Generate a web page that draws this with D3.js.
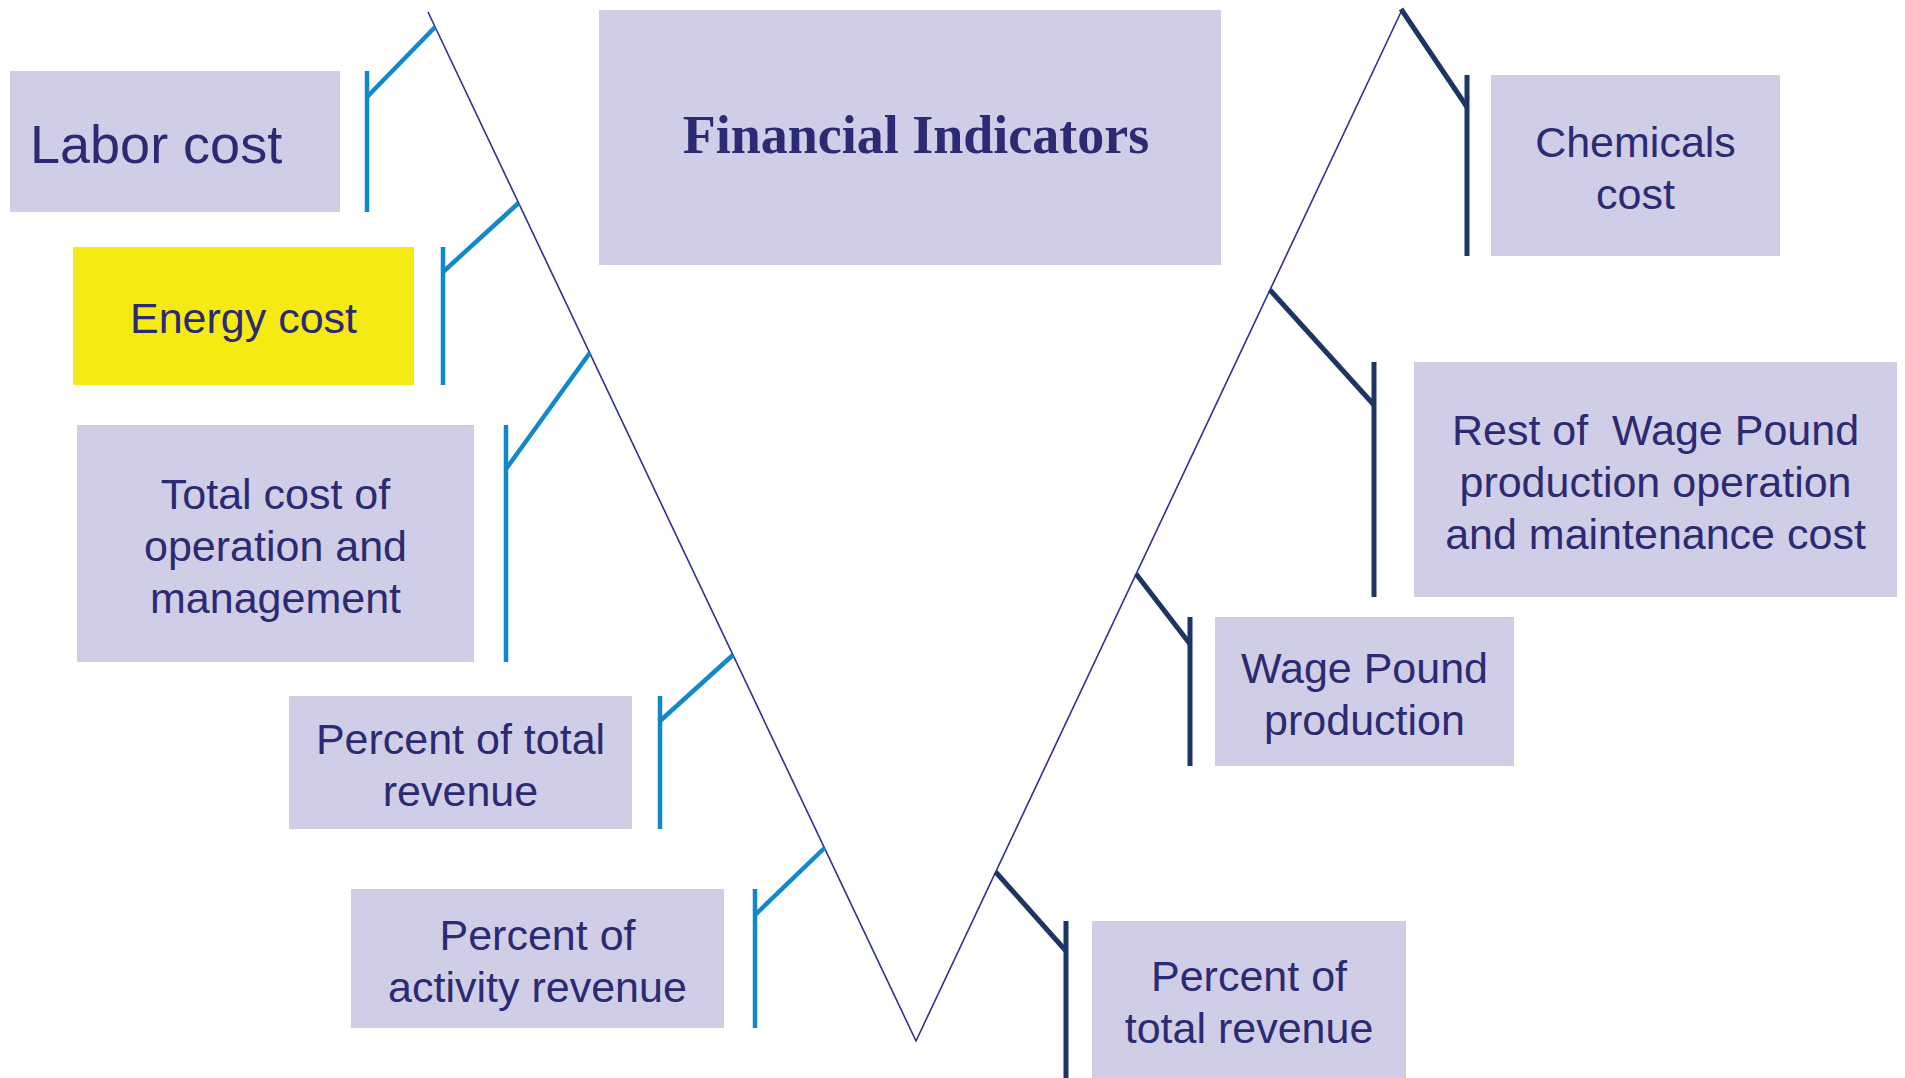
<!DOCTYPE html>
<html>
<head>
<meta charset="utf-8">
<script src="https://cdn.jsdelivr.net/npm/d3@7/dist/d3.min.js"></script>
<style>
  body { margin: 0; background: #fff; }
  text { white-space: pre; }
</style>
</head>
<body>
<div class="graph"></div>
<script>
// Labels of the diagram, left arm (top to bottom) and right arm (top to bottom)
var leftLabels = ["Labor cost", "Energy cost", "Total cost of\noperation and\nmanagement",
    "Percent of total\nrevenue", "Percent of\nactivity revenue"];
var rightLabels = ["Chemicals\ncost", "Rest of  Wage Pound\nproduction operation\nand maintenance cost",
    "Wage Pound\nproduction", "Percent of\ntotal revenue"];
var titleLabel = "Financial Indicators";
var highlighted = ["Energy cost"];

// Layout, in design units of the 1905 x 1078 canvas
var leftBoxes = [[10, 71, 340, 212], [73, 247, 414, 385], [77, 425, 474, 662],
    [289, 696, 632, 829], [351, 889, 724, 1028]];
var rightBoxes = [[1491, 75, 1780, 256], [1414, 362, 1897, 597],
    [1215, 617, 1514, 766], [1092, 921, 1406, 1078]];
var titleBox = [599, 10, 1221, 265];
var vPoints = [[428, 12], [916, 1041], [1401, 12]];
// stem x, join y on the stem, y where the branch meets the V
var leftStems = [[367, 97, 27], [443, 272, 203], [506, 469, 353], [660, 721, 655], [755, 915, 848]];
var rightStems = [[1467, 107, 9], [1374, 405, 290], [1190, 644, 574], [1066, 951, 872]];

var width = 1905, height = 1078;

var x = d3.scaleLinear().domain([0, 1905]).range([0, width]);
var y = d3.scaleLinear().domain([0, 1078]).range([0, height]);

var svg = d3.select(".graph").append("svg")
    .attr("width", width)
    .attr("height", height);

var boxFill = "#d0cee7",
    textColor = "#2c2a72";

// x position on an arm of the V for a given y
function armX(p0, p1, yy) {
    var t = (yy - p0[1]) / (p1[1] - p0[1]);
    return p0[0] + t * (p1[0] - p0[0]);
}

var nodes = [];
leftLabels.forEach(function(d, i) {
    nodes.push({label: d, box: leftBoxes[i], stem: leftStems[i], side: "left"});
});
rightLabels.forEach(function(d, i) {
    nodes.push({label: d, box: rightBoxes[i], stem: rightStems[i], side: "right"});
});

// The boxes
svg.selectAll(".box")
    .data(nodes)
    .enter()
    .append("rect")
    .attr("class", "box")
    .attr("x", function(d) { return x(d.box[0]); })
    .attr("y", function(d) { return y(d.box[1]); })
    .attr("width", function(d) { return x(d.box[2]) - x(d.box[0]); })
    .attr("height", function(d) { return y(d.box[3]) - y(d.box[1]); })
    .style("fill", function(d) { return highlighted.indexOf(d.label) >= 0 ? "#f5eb13" : boxFill; });

// Title box
svg.append("rect")
    .attr("x", x(titleBox[0]))
    .attr("y", y(titleBox[1]))
    .attr("width", x(titleBox[2]) - x(titleBox[0]))
    .attr("height", y(titleBox[3]) - y(titleBox[1]))
    .style("fill", boxFill);

svg.append("text")
    .attr("x", x((titleBox[0] + titleBox[2]) / 2) + 6)
    .attr("y", y(153))
    .attr("text-anchor", "middle")
    .style("font", "bold 54px 'Liberation Serif', 'Times New Roman', serif")
    .style("fill", textColor)
    .text(titleLabel);

// The V line
svg.append("path")
    .attr("d", d3.line().x(function(d) { return x(d[0]); }).y(function(d) { return y(d[1]); })(vPoints))
    .style("fill", "none")
    .style("stroke", "#2e3192")
    .style("stroke-width", 1.6);

// Branches: a vertical stem along the box and a diagonal to the V
var branch = svg.selectAll(".branch")
    .data(nodes)
    .enter()
    .append("g")
    .attr("class", "branch")
    .style("stroke", function(d) { return d.side === "left" ? "#1188c9" : "#1c3562"; })
    .style("stroke-width", function(d) { return d.side === "left" ? 4.5 : 5; })
    .style("fill", "none");

branch.append("line")
    .attr("x1", function(d) { return x(d.stem[0]); })
    .attr("x2", function(d) { return x(d.stem[0]); })
    .attr("y1", function(d) { return y(d.box[1]); })
    .attr("y2", function(d) { return y(d.box[3]); });

branch.append("line")
    .attr("x1", function(d) { return x(d.stem[0]); })
    .attr("y1", function(d) { return y(d.stem[1]); })
    .attr("x2", function(d) {
        var arm = d.side === "left" ? [vPoints[0], vPoints[1]] : [vPoints[1], vPoints[2]];
        var yy = Math.max(d.stem[2], 12);
        return x(armX(arm[0], arm[1], yy));
    })
    .attr("y2", function(d) { return y(d.stem[2]); });

// Box labels
nodes.forEach(function(d) {
    var lines = d.label.split("\n");
    var big = d.label === "Labor cost";
    var fs = big ? 54 : 43, lh = 52;
    var cy = (d.box[1] + d.box[3]) / 2;
    var t = svg.append("text")
        .attr("text-anchor", big ? "start" : "middle")
        .style("font-family", "'Liberation Sans', Arial, sans-serif")
        .style("font-size", fs + "px")
        .style("fill", textColor);
    lines.forEach(function(line, i) {
        t.append("tspan")
            .attr("x", big ? x(d.box[0] + 20) : x((d.box[0] + d.box[2]) / 2))
            .attr("y", y(cy + (i - (lines.length - 1) / 2) * lh + fs * 0.716 / 2 + 2))
            .text(line);
    });
});
</script>
</body>
</html>
